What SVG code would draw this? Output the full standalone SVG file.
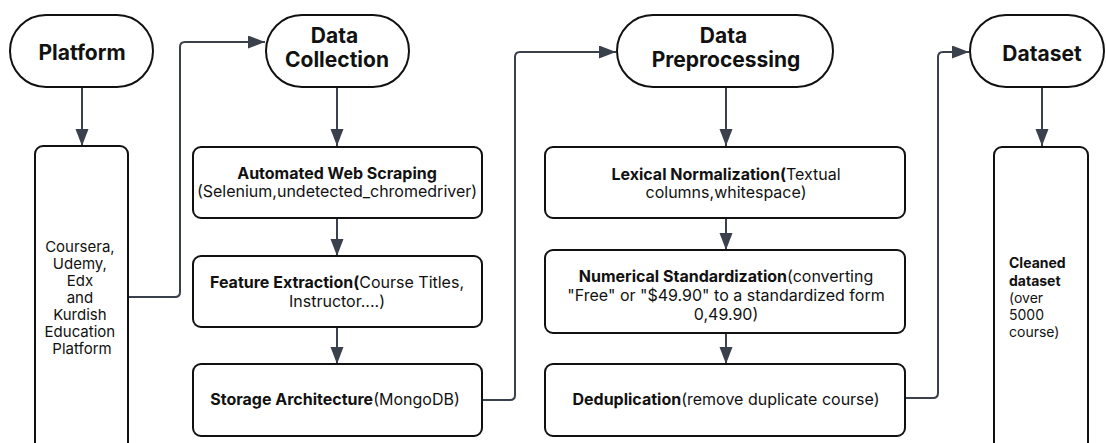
<svg xmlns="http://www.w3.org/2000/svg" width="1106" height="443" viewBox="0 0 1106 443">
  <defs>
    <marker id="arrow" markerUnits="userSpaceOnUse" markerWidth="18" markerHeight="14" refX="17" refY="6.5" orient="auto">
      <path d="M0,0 L17,6.5 L0,13 Z" fill="#3a414c"/>
    </marker>
    <style>
      .term { fill: #fff; stroke: #111; stroke-width: 2; }
      .box { fill: #fff; stroke: #111; stroke-width: 2; }
      .conn { fill: none; stroke: #3a414c; stroke-width: 2; marker-end: url(#arrow); }
      .title { font-family: Inter, "Liberation Sans", sans-serif; font-size: 21px; font-weight: 700; fill: #111; text-anchor: middle; }
      .txt { font-family: Inter, "Liberation Sans", sans-serif; font-size: 16px; fill: #111; text-anchor: middle; }
      .list { font-family: Inter, "Liberation Sans", sans-serif; font-size: 15px; fill: #111; text-anchor: middle; }
      .small { font-family: Inter, "Liberation Sans", sans-serif; font-size: 14px; fill: #111; text-anchor: start; }
      .b { font-weight: 700; }
    </style>
  </defs>
  <rect width="1106" height="443" fill="#fff"/>

  <g id="connectors">
    <path class="conn" d="M82,88 V146"/>
    <path class="conn" d="M128,297 H175 Q180,297 180,292 V47 Q180,42 185,42 H265"/>
    <path class="conn" d="M337,88 V146"/>
    <path class="conn" d="M337,219 V256"/>
    <path class="conn" d="M337,328 V364"/>
    <path class="conn" d="M482,400 H510 Q515,400 515,395 V57 Q515,52 520,52 H616"/>
    <path class="conn" d="M726,88 V146"/>
    <path class="conn" d="M726,219 V250"/>
    <path class="conn" d="M726,334 V364"/>
    <path class="conn" d="M905,398 H933 Q938,398 938,393 V57 Q938,52 943,52 H969"/>
    <path class="conn" d="M1042,88 V146"/>
  </g>

  <g id="platform">
    <rect class="term" x="10" y="15" width="143" height="72" rx="36"/>
    <text class="title" x="82" y="60">Platform</text>
  </g>

  <g id="platform-list">
    <rect class="box" x="35" y="146" width="93" height="310" rx="8"/>
    <text class="list">
      <tspan x="82" y="252">Coursera,</tspan>
      <tspan x="82" y="269">Udemy,</tspan>
      <tspan x="82" y="286">Edx</tspan>
      <tspan x="82" y="303">and</tspan>
      <tspan x="82" y="320">Kurdish</tspan>
      <tspan x="82" y="337">Education</tspan>
      <tspan x="82" y="354">Platform</tspan>
    </text>
  </g>

  <g id="data-collection">
    <rect class="term" x="266" y="15" width="143" height="72" rx="36"/>
    <text class="title">
      <tspan x="337" y="43">Data</tspan>
      <tspan x="337" y="67">Collection</tspan>
    </text>
  </g>

  <g id="web-scraping">
    <rect class="box" x="193" y="147" width="289" height="71" rx="8"/>
    <text class="txt"><tspan x="337" y="179" class="b">Automated Web Scraping</tspan></text>
    <text class="txt" x="337" y="197">(Selenium,undetected_chromedriver)</text>
  </g>

  <g id="feature-extraction">
    <rect class="box" x="193" y="256" width="289" height="71" rx="8"/>
    <text class="txt" x="337" y="288"><tspan class="b">Feature Extraction(</tspan>Course Titles,</text>
    <text class="txt" x="337" y="307">Instructor....)</text>
  </g>

  <g id="storage">
    <rect class="box" x="193" y="364" width="289" height="72" rx="8"/>
    <text class="txt" x="335" y="405"><tspan class="b">Storage Architecture</tspan>(MongoDB)</text>
  </g>

  <g id="data-preprocessing">
    <rect class="term" x="617" y="15" width="216" height="72" rx="36"/>
    <text class="title">
      <tspan x="726" y="43">Data</tspan>
      <tspan x="726" y="67">Preprocessing</tspan>
    </text>
  </g>

  <g id="lexical-normalization">
    <rect class="box" x="545" y="147" width="360" height="71" rx="8"/>
    <text class="txt" x="726" y="180"><tspan class="b">Lexical Normalization(</tspan>Textual</text>
    <text class="txt" x="726" y="198">columns,whitespace)</text>
  </g>

  <g id="numerical-standardization">
    <rect class="box" x="545" y="250" width="360" height="83" rx="8"/>
    <text class="txt" x="726" y="282"><tspan class="b">Numerical Standardization</tspan>(converting</text>
    <text class="txt" x="726" y="301">"Free" or "$49.90" to a standardized form</text>
    <text class="txt" x="726" y="320">0,49.90)</text>
  </g>

  <g id="deduplication">
    <rect class="box" x="545" y="364" width="360" height="72" rx="8"/>
    <text class="txt" x="726" y="405"><tspan class="b">Deduplication</tspan>(remove duplicate course)</text>
  </g>

  <g id="dataset">
    <rect class="term" x="970" y="15" width="134" height="72" rx="36"/>
    <text class="title" x="1042" y="61">Dataset</text>
  </g>

  <g id="cleaned-dataset">
    <rect class="box" x="994" y="147" width="94" height="310" rx="8"/>
    <text class="small">
      <tspan x="1009" y="268" class="b">Cleaned</tspan>
      <tspan x="1009" y="286" class="b">dataset</tspan>
      <tspan x="1009" y="303">(over</tspan>
      <tspan x="1009" y="320">5000</tspan>
      <tspan x="1009" y="337">course)</tspan>
    </text>
  </g>
</svg>
